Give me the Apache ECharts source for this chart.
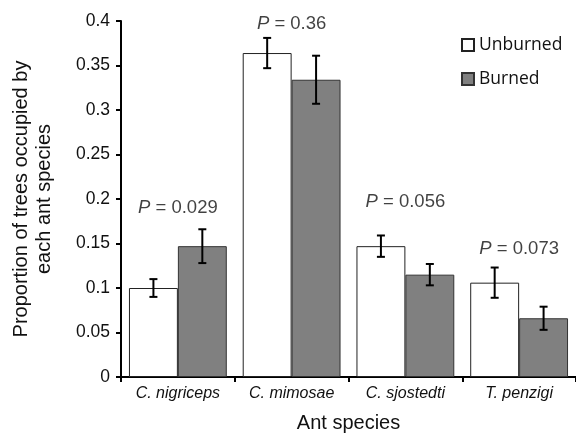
<!DOCTYPE html>
<html lang="en">
<head>
<meta charset="UTF-8">
<title>Ant species</title>
<script src="https://cdn.jsdelivr.net/npm/echarts@6/dist/echarts.min.js"></script>
<style>
  html, body { margin: 0; padding: 0; background: #fff; }
  #main { width: 576px; height: 438px; }
</style>
</head>
<body>
<div id="main"></div>
<script>
// data
var species = ['C. nigriceps', 'C. mimosae', 'C. sjostedti', 'T. penzigi'];
var unburned = [0.100, 0.364, 0.147, 0.106];
var unburnedErr = [0.010, 0.017, 0.012, 0.017];
var burned = [0.147, 0.334, 0.115, 0.066];
var burnedErr = [0.019, 0.027, 0.012, 0.013];
var pTexts = ['0.029', '0.36', '0.056', '0.073'];
var pLabelY = [0.19, 0.397, 0.197, 0.144];

var catGap = 0.14; // barCategoryGap as fraction

function errData(vals, errs) {
  return vals.map(function (v, i) { return [i, v - errs[i], v + errs[i]]; });
}

function errRender(side) {
  return function (params, api) {
    var band = api.size([1, 0])[0];
    var off = side * band * (1 - catGap) / 4;
    var lo = api.coord([api.value(0), api.value(1)]);
    var hi = api.coord([api.value(0), api.value(2)]);
    var x = lo[0] + off, cap = 4;
    var st = { stroke: '#000', lineWidth: 2 };
    return {
      type: 'group',
      children: [
        { type: 'line', shape: { x1: x, y1: lo[1], x2: x, y2: hi[1] }, style: st },
        { type: 'line', shape: { x1: x - cap, y1: lo[1], x2: x + cap, y2: lo[1] }, style: st },
        { type: 'line', shape: { x1: x - cap, y1: hi[1], x2: x + cap, y2: hi[1] }, style: st }
      ]
    };
  };
}

var chart = echarts.init(document.getElementById('main'));
chart.setOption({
  animation: false,
  textStyle: { fontFamily: 'Liberation Sans, Arial, sans-serif', color: '#111' },
  grid: { left: 121, right: 0, top: 21, bottom: 56 },
  legend: {
    orient: 'vertical',
    left: 456,
    top: 28,
    itemWidth: 12,
    itemHeight: 12,
    itemGap: 10,
    icon: 'rect',
    textStyle: { fontFamily: 'Open Sans, sans-serif', fontSize: 17.5, color: '#111', padding: [0, 0, 0, 0], lineHeight: 24 },
    data: ['Unburned', 'Burned']
  },
  xAxis: {
    type: 'category',
    data: species,
    name: 'Ant species',
    nameLocation: 'middle',
    nameGap: 36,
    nameTextStyle: { fontSize: 20, color: '#111' },
    axisLine: { lineStyle: { color: '#000', width: 2 } },
    axisTick: { show: true, length: 5, lineStyle: { color: '#000', width: 2 } },
    axisLabel: { fontStyle: 'italic', fontSize: 16, color: '#111', margin: 9 }
  },
  yAxis: {
    type: 'value',
    min: 0,
    max: 0.4,
    interval: 0.05,
    name: 'Proportion of trees occupied by\neach ant species',
    nameLocation: 'middle',
    nameGap: 65,
    nameTextStyle: { fontSize: 20, color: '#111', lineHeight: 23 },
    axisLine: { show: true, lineStyle: { color: '#000', width: 2 } },
    axisTick: { show: true, length: 5, lineStyle: { color: '#000', width: 2 } },
    axisLabel: { fontSize: 17.5, color: '#111', margin: 11 },
    splitLine: { show: false }
  },
  series: [
    {
      name: 'Unburned',
      type: 'bar',
      data: unburned,
      barGap: '0%',
      barCategoryGap: (catGap * 100) + '%',
      itemStyle: { color: '#fff', borderColor: '#222', borderWidth: 1 }
    },
    {
      name: 'Burned',
      type: 'bar',
      data: burned,
      barGap: '0%',
      barCategoryGap: (catGap * 100) + '%',
      itemStyle: { color: '#808080', borderColor: '#333', borderWidth: 1 }
    },
    {
      type: 'custom',
      renderItem: errRender(-1),
      data: errData(unburned, unburnedErr),
      encode: { x: 0, y: [1, 2] },
      z: 5
    },
    {
      type: 'custom',
      renderItem: errRender(1),
      data: errData(burned, burnedErr),
      encode: { x: 0, y: [1, 2] },
      z: 5
    },
    {
      type: 'scatter',
      symbolSize: 0,
      data: pLabelY.map(function (v, i) { return [i, v]; }),
      label: {
        show: true,
        position: 'inside',
        fontSize: 18.5,
        color: '#111',
        formatter: function (p) { return '{i|P} = ' + pTexts[p.dataIndex]; },
        rich: { i: { fontStyle: 'italic', fontSize: 18.5, color: '#111' } }
      },
      silent: true
    }
  ]
});
</script>
</body>
</html>
